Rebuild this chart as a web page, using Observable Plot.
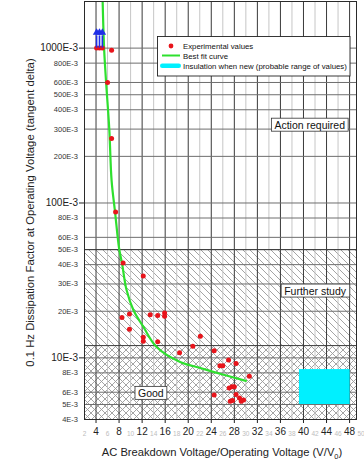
<!DOCTYPE html>
<html>
<head>
<meta charset="utf-8">
<script src="https://cdn.jsdelivr.net/npm/d3@7"></script>
<script src="https://cdn.jsdelivr.net/npm/@observablehq/plot@0.6"></script>
<style>
  body { margin: 0; background: #fff; }
  svg { display: block; }
</style>
</head>
<body>
<div id="chart"></div>
<script>
// Measured samples: breakdown ratio V/V0 and 0.1 Hz tan delta (in units of 1E-3)
const sampleRatio = [4.1, 4.6, 5.1, 6.7, 6.0, 6.7, 7.4, 8.7, 12.2, 8.5, 9.8, 9.8, 13.4, 14.7, 15.9, 15.9,
  12.2, 12.2, 14.7, 18.5, 22.1, 20.8, 24.5, 25.5, 26.0, 27.0, 28.3, 30.6, 27.1, 27.6, 28.0, 28.3,
  24.5, 27.3, 27.7, 28.9, 29.2, 29.6];
const sampleTanDelta = [1000, 1000, 1000, 970, 600, 261, 87.5, 41, 33.8, 18.2, 19.2, 15.3, 19.0, 18.8, 19.5, 18.6,
  13.6, 12.8, 12.7, 10.8, 13.8, 11.9, 11.1, 8.9, 8.9, 9.7, 9.2, 7.6, 6.4, 6.5, 6.5, 5.8,
  5.75, 5.25, 5.3, 5.5, 5.25, 5.35];

// Samples beyond the measurable range (drawn with upward arrows)
const offScaleRatio = [4.1, 4.6, 5.1];
const offScaleTanDelta = [1000, 1000, 1000];

// Best fit curve
const fitRatio = [5.15, 5.4, 5.75, 6.3, 6.7, 7.3, 8.0, 8.5, 9.3, 10.5, 12.2, 14.55, 18.6, 22.1, 25.5, 30.0];
const fitTanDelta = [2000, 1000, 600, 300, 140, 87.5, 51, 41, 27.4, 20.3, 15.9, 11.7, 9.4, 8.6, 7.9, 7.1];

// Insulation when new (probable range of values)
const newRatio = [39.3, 48.1];
const newTanDelta = [5.0, 8.4];

// Assessment zones (tan delta bounds, 1E-3)
const zoneNames = ["Action required", "Further study", "Good"];
const zoneLow = [50, 12, 4];
const zoneHigh = [2000, 50, 12];

// Tick values
const xMajorTicks = [4, 8, 12, 16, 20, 24, 28, 32, 36, 40, 44, 48];
const xMinorTicks = [2, 6, 10, 14, 18, 22, 26, 30, 34, 38, 42, 46, 50];
const yMajorTicks = [10, 100, 1000];
const yMinorTicks = [4, 5, 6, 8, 20, 30, 40, 50, 60, 80, 200, 300, 400, 500, 600, 800];

// Legend entries
const legendLabels = ["Experimental values", "Best fit curve", "Insulation when new (probable range of values)"];

const samples = sampleRatio.map((r, i) => ({ratio: r, tan: sampleTanDelta[i]}));
const offScale = offScaleRatio.map((r, i) => ({ratio: r, tan: offScaleTanDelta[i]}));
const fit = fitRatio.map((r, i) => ({ratio: r, tan: fitTanDelta[i]}));
const zones = zoneNames.map((name, i) => ({name, low: zoneLow[i], high: zoneHigh[i]}));
const newRange = [{x1: newRatio[0], x2: newRatio[1], y1: newTanDelta[0], y2: newTanDelta[1]}];

const FONT = "'Liberation Sans', Arial, Helvetica, sans-serif";
const X_MAX = 49.2;
const fmtE = d => `${d}E-3`;
const RED = "#e8141b", GREEN = "#2ee02e", CYAN = "#00f0ff", BLUE = "#1f2fe8";

const plot = Plot.plot({
  width: 364,
  height: 464,
  marginLeft: 84,
  marginRight: 8,
  marginTop: 1,
  marginBottom: 45,
  style: {fontFamily: FONT, fontSize: "10px", background: "#fff", color: "#222"},
  x: {type: "linear", domain: [2, X_MAX], ticks: xMajorTicks, tickFormat: d => d, tickSize: 4, tickPadding: 4, label: null},
  y: {type: "log", domain: [4, 2000], ticks: yMajorTicks, tickFormat: fmtE, tickSize: 5, tickPadding: 1.5, label: null},
  marks: [
    // zone backgrounds
    Plot.rect(zones.filter(z => z.name === "Action required"), {y1: "low", y2: "high", fill: "#fff"}),
    Plot.rect(zones.filter(z => z.name === "Further study"), {y1: "low", y2: "high", fill: "url(#hatch-diag)"}),
    Plot.rect(zones.filter(z => z.name === "Good"), {y1: "low", y2: "high", fill: "url(#hatch-cross)"}),
    // grid
    Plot.ruleX(xMinorTicks.filter(d => d > 2 && d < X_MAX), {stroke: "#c6c6c6", strokeWidth: 1}),
    Plot.ruleX(xMajorTicks, {stroke: "#3a3a3a", strokeWidth: 1}),
    Plot.ruleY(yMinorTicks.concat(yMajorTicks), {stroke: "#6e6e6e", strokeWidth: 1}),
    Plot.ruleY(zoneLow.slice(0, 2), {stroke: "#3a3a3a", strokeWidth: 1}),
    // new insulation range
    Plot.rect(newRange, {x1: "x1", x2: "x2", y1: "y1", y2: "y2", fill: CYAN}),
    // best fit curve
    Plot.line(fit, {x: "ratio", y: "tan", stroke: GREEN, strokeWidth: 2.2, curve: "catmull-rom", clip: true}),
    // samples
    Plot.dot(samples, {x: "ratio", y: "tan", r: 2.5, fill: RED}),
    // off-scale arrows
    Plot.ruleX(offScale, {x: "ratio", y1: "tan", y2: d => d.tan * 1.2, stroke: BLUE, strokeWidth: 1.6}),
    Plot.dot(offScale, {x: "ratio", y: d => d.tan * 1.26, symbol: "triangle", r: 2.8, fill: BLUE}),
    Plot.frame({stroke: "#2a2a2a"}),
    // minor tick labels
    Plot.text(yMinorTicks, {y: d => d, text: fmtE, frameAnchor: "left", textAnchor: "end", dx: -6.5, fontSize: 7.5, fill: "#333"}),
    Plot.text(xMinorTicks, {x: d => d, text: d => d, frameAnchor: "bottom", lineAnchor: "middle", dy: 14, fontSize: 6.5, fill: "#bdbdbd"})
  ]
});

const svg = d3.select(plot);
document.getElementById("chart").appendChild(plot);

// hatch patterns
const defs = svg.insert("defs", ":first-child");
const diag = defs.append("pattern").attr("id", "hatch-diag").attr("patternUnits", "userSpaceOnUse")
  .attr("width", 7).attr("height", 7);
diag.append("rect").attr("width", 7).attr("height", 7).attr("fill", "#fff");
diag.append("path").attr("d", "M-1,-1L8,8M-1,6L1,8M6,-1L8,1").attr("stroke", "#9a9a9a").attr("stroke-width", 0.9);
const cross = defs.append("pattern").attr("id", "hatch-cross").attr("patternUnits", "userSpaceOnUse")
  .attr("width", 7).attr("height", 7);
cross.append("rect").attr("width", 7).attr("height", 7).attr("fill", "#fff");
cross.append("path").attr("d", "M-1,-1L8,8M-1,6L1,8M6,-1L8,1M-1,8L8,-1M-1,1L1,-1M6,8L8,6").attr("stroke", "#9a9a9a").attr("stroke-width", 0.9);

const xs = plot.scale("x"), ys = plot.scale("y");
const px = v => xs.apply(v), py = v => ys.apply(v);

// boxed zone labels
function boxedLabel(text, x, y, anchor) {
  const g = svg.append("g");
  const t = g.append("text").attr("x", x).attr("y", y).attr("text-anchor", anchor)
    .attr("dominant-baseline", "central").attr("font-size", 10.5).attr("fill", "#111").text(text);
  const b = t.node().getBBox();
  g.insert("rect", "text").attr("x", b.x - 3).attr("y", b.y - 0.5).attr("width", b.width + 6).attr("height", b.height + 1)
    .attr("fill", "#fff").attr("stroke", "#333").attr("stroke-width", 0.8);
}
boxedLabel(zoneNames[0], px(X_MAX) - 11, py(318), "end");
boxedLabel(zoneNames[1], px(X_MAX) - 10, py(27), "end");
boxedLabel(zoneNames[2], px(13.6), py(5.9), "middle");

// legend
const lg = svg.append("g").attr("font-size", 7.8).attr("text-anchor", "start");
lg.append("rect").attr("x", 157.5).attr("y", 36.5).attr("width", 192.5).attr("height", 39.5)
  .attr("fill", "#fff").attr("stroke", "#222").attr("stroke-width", 0.9);
lg.append("circle").attr("cx", 171).attr("cy", 46).attr("r", 2.4).attr("fill", RED);
lg.append("line").attr("x1", 162).attr("x2", 180).attr("y1", 55.5).attr("y2", 55.5).attr("stroke", GREEN).attr("stroke-width", 2);
lg.append("rect").attr("x", 160).attr("y", 63.5).attr("width", 21).attr("height", 4.5).attr("rx", 2.2).attr("fill", CYAN);
legendLabels.forEach((s, i) => lg.append("text").attr("x", 183).attr("y", 46 + i * 10)
  .attr("text-anchor", "start").attr("dominant-baseline", "central").attr("fill", "#111").text(s));

// axis titles
const xt = svg.append("text").attr("x", 222).attr("y", 456).attr("text-anchor", "middle")
  .attr("font-size", 11.2).attr("fill", "#222");
xt.append("tspan").text("AC Breakdown Voltage/Operating Voltage (V/V");
xt.append("tspan").attr("font-size", 7.5).attr("dy", 2.5).text("0");
xt.append("tspan").attr("dy", -2.5).text(")");

svg.append("text").attr("transform", "translate(33.5,212.5) rotate(-90)").attr("text-anchor", "middle")
  .attr("font-size", 11.3).attr("fill", "#222")
  .text("0.1 Hz Dissipation Factor at Operating Voltage (tangent delta)");
</script>
</body>
</html>
